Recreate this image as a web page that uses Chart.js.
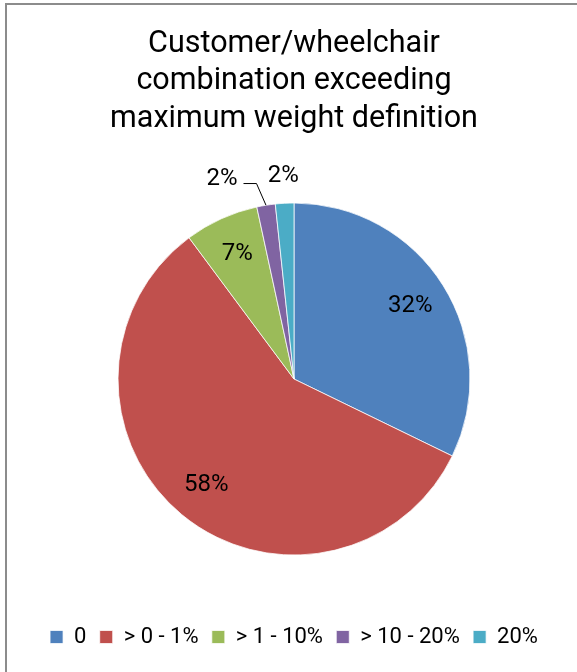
<!DOCTYPE html>
<html>
<head>
<meta charset="utf-8">
<script src="https://cdn.jsdelivr.net/npm/chart.js@4.4.1/dist/chart.umd.min.js"></script>
<style>
  html, body { margin: 0; padding: 0; background: #fff; }
  #wrap { position: relative; width: 577px; height: 672px; overflow: hidden; background: #fff; }
  #chart { position: absolute; left: 0; top: 0; }
  #frame {
    position: absolute; left: 5px; top: 3px; width: 700px; height: 800px;
    border-left: 2px solid #8c8c8c; border-top: 2px solid #8c8c8c;
    pointer-events: none;
  }
</style>
</head>
<body>
<div id="wrap">
  <canvas id="chart" width="577" height="672"></canvas>
  <div id="frame"></div>
</div>
<script>
// Weight-excess bands and the number of customer/wheelchair combinations in each
const categories = ['0', '> 0 - 1%', '> 1 - 10%', '> 10 - 20%', '20%'];
const counts = [19, 34, 4, 1, 1];
const sliceColors = ['#4F81BD', '#C0504D', '#9BBB59', '#8064A2', '#4BACC6'];
const titleLines = ['Customer/wheelchair', 'combination exceeding', 'maximum weight definition'];

const FONT_FAMILY = 'Roboto, "Liberation Sans", sans-serif';

// Percentage labels: large slices inside, thin slices outside with a leader line
const sliceLabels = {
  id: 'sliceLabels',
  afterDatasetsDraw(chart) {
    const ctx = chart.ctx;
    const meta = chart.getDatasetMeta(0);
    const values = chart.data.datasets[0].data;
    const total = values.reduce((a, b) => a + b, 0);
    ctx.save();
    ctx.font = '24px ' + FONT_FAMILY;
    ctx.fillStyle = '#000';
    ctx.strokeStyle = '#000';
    ctx.lineWidth = 1;
    ctx.textAlign = 'center';
    ctx.textBaseline = 'middle';
    let leftmostOutside = Infinity;
    for (let i = meta.data.length - 1; i >= 0; i--) {
      const arc = meta.data[i];
      const p = arc.getProps(['x', 'y', 'startAngle', 'endAngle', 'outerRadius'], true);
      const mid = (p.startAngle + p.endAngle) / 2;
      const cos = Math.cos(mid), sin = Math.sin(mid);
      const share = values[i] / total;
      const text = Math.round(share * 100) + '%';
      const w = ctx.measureText(text).width;
      if (share >= 0.05) {
        const d = p.outerRadius * 0.78;
        ctx.fillText(text, p.x + cos * d, p.y + sin * d);
        continue;
      }
      const d = p.outerRadius + 27;
      let lx = p.x + cos * d;
      let ly = p.y + sin * d;
      if (lx + w / 2 + 3 > leftmostOutside) {
        // Collides with the neighbouring label: move it left and connect it to its slice
        const ex = p.x + cos * p.outerRadius;
        const ey = p.y + sin * p.outerRadius;
        const elbowX = p.x + cos * (p.outerRadius + 22) - 6;
        const elbowY = p.y + sin * (p.outerRadius + 22);
        const endX = elbowX - 13;
        ctx.beginPath();
        ctx.moveTo(ex, ey);
        ctx.lineTo(elbowX, elbowY);
        ctx.lineTo(endX, elbowY);
        ctx.stroke();
        lx = endX - 6 - w / 2;
        ly = elbowY - 5;
      }
      ctx.fillText(text, lx, ly);
      leftmostOutside = Math.min(leftmostOutside, lx - w / 2);
    }
    ctx.restore();
  }
};

new Chart(document.getElementById('chart'), {
  type: 'pie',
  data: {
    labels: categories,
    datasets: [{
      data: counts,
      backgroundColor: sliceColors,
      borderColor: 'rgba(255,255,255,0.75)',
      borderWidth: 1,
      radius: 176
    }]
  },
  options: {
    responsive: false,
    animation: false,
    layout: { padding: { left: 11, right: 0, top: 0, bottom: 14 } },
    plugins: {
      title: {
        display: true,
        text: titleLines,
        color: '#000',
        font: { family: FONT_FAMILY, size: 30.5, weight: 'normal', lineHeight: 1.23 },
        padding: { top: 25.5, bottom: 7.3 }
      },
      legend: {
        position: 'bottom',
        labels: {
          color: '#000',
          font: { family: FONT_FAMILY, size: 22 },
          boxWidth: 13,
          boxHeight: 13,
          padding: 13.3
        }
      },
      tooltip: { enabled: false }
    }
  },
  plugins: [sliceLabels]
});
</script>
</body>
</html>
